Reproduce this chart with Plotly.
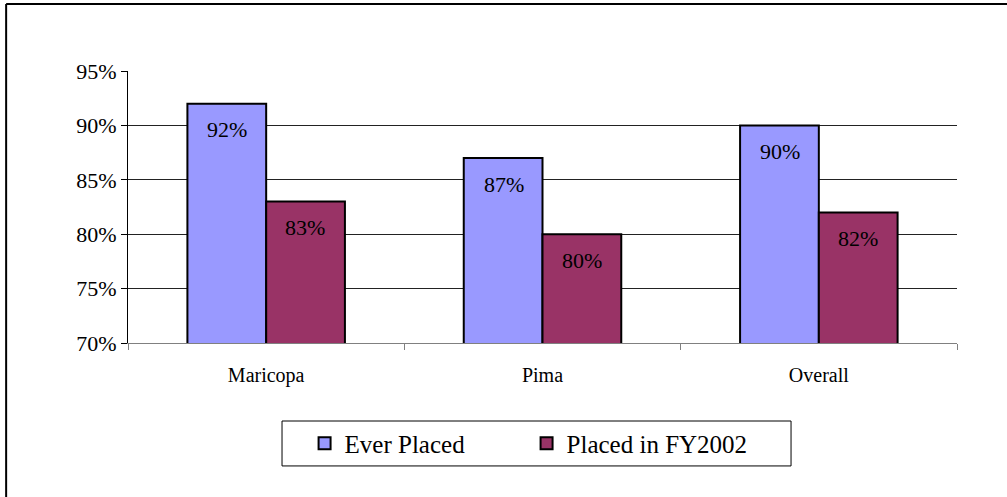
import plotly.graph_objects as go

counties = ["Maricopa", "Pima", "Overall"]
ever_placed = [92, 87, 90]
placed_fy2002 = [83, 80, 82]
y_ticks = [70, 75, 80, 85, 90, 95]

FONT = "Liberation Serif"
C = {"blue": "#9999FF", "plum": "#993366"}

fig = go.Figure()
fig.add_trace(go.Bar(
    x=counties, y=ever_placed, name="Ever Placed",
    marker=dict(color=C["blue"], line=dict(color="black", width=2)),
))
fig.add_trace(go.Bar(
    x=counties, y=placed_fy2002, name="Placed in FY2002",
    marker=dict(color=C["plum"], line=dict(color="black", width=2)),
))

# value labels near the top inside each bar
for vals, shift in [(ever_placed, -39), (placed_fy2002, 39)]:
    for cat, v in zip(counties, vals):
        fig.add_annotation(
            x=cat, y=v, text=f"{v}%", showarrow=False,
            xshift=shift, yshift=-26, yanchor="middle",
            font=dict(family=FONT, size=22, color="black"),
        )

# outer chart border: only the left and top edges show in the view
fig.add_shape(type="line", xref="paper", yref="paper",
              x0=-0.147, x1=-0.147, y0=-0.7, y1=1.246,
              line=dict(color="black", width=2), layer="below")
fig.add_shape(type="line", xref="paper", yref="paper",
              x0=-0.147, x1=1.1, y0=1.246, y1=1.246,
              line=dict(color="black", width=2), layer="below")
# legend box
fig.add_shape(
    type="rect", xref="paper", yref="paper",
    x0=0.1858, x1=0.7998, y0=-0.452, y1=-0.2868,
    line=dict(color="black", width=1), fillcolor="white", layer="below",
)

fig.update_layout(
    width=1007, height=497,
    plot_bgcolor="#FFFFFF", paper_bgcolor="#FFFFFF",
    font=dict(family=FONT, size=22, color="black"),
    barmode="group", bargap=0.43, bargroupgap=0,
    margin=dict(l=128, r=50, t=71, b=154),
    xaxis=dict(
        showline=True, linecolor="#808080", linewidth=1,
        ticks="outside", tickson="boundaries", ticklen=6, tickcolor="#808080",
        tickfont=dict(family=FONT, size=20), showgrid=False,
        ticklabelstandoff=14,
    ),
    yaxis=dict(
        range=[70, 95], tickvals=y_ticks,
        ticktext=[f"{v}%" for v in y_ticks],
        showline=True, linecolor="black", linewidth=1,
        ticks="outside", ticklen=6, tickcolor="black",
        gridcolor="#222222", gridwidth=1, zeroline=False,
        tickfont=dict(family=FONT, size=22),
    ),
    legend=dict(
        orientation="h", x=0.213, xanchor="left", y=-0.3695, yanchor="middle",
        bgcolor="rgba(0,0,0,0)", borderwidth=0,
        font=dict(family=FONT, size=25, color="black"), entrywidth=177,
        traceorder="normal",
    ),
)

fig.write_html(
    "out.html",
    config={"displayModeBar": False},
    post_script="document.body.style.margin='0';",
)
